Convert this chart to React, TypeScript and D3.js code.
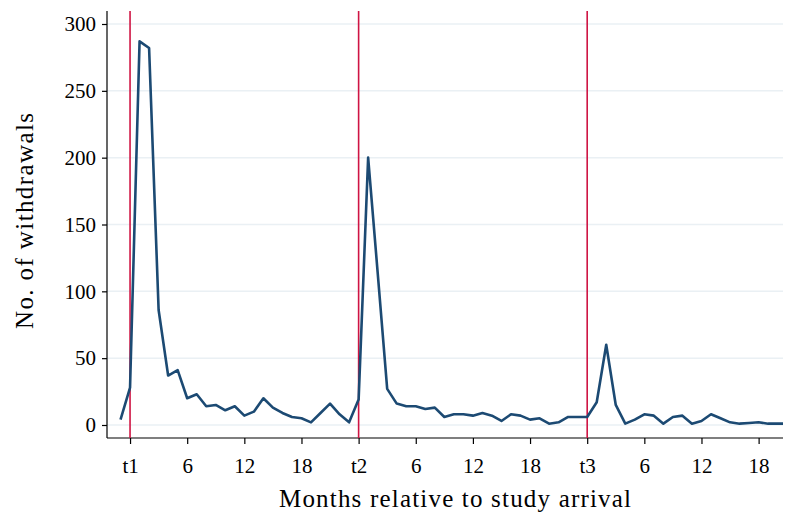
import React, { useRef, useEffect } from "react";
import * as d3 from "d3";

// months relative to first arrival (t1 = 0, t2 = 24, t3 = 48)
const months = d3.range(-1, 70);
const withdrawals = [
  4, 28, 287, 282, 86, 37, 41, 20, 23, 14, 15, 11, 14, 7, 10, 20, 13, 9, 6, 5, 2, 9, 16, 8, 2,
  19, 200, 114, 27, 16, 14, 14, 12, 13, 6, 8, 8, 7, 9, 7, 3, 8, 7, 4, 5, 1, 2, 6, 6,
  6, 17, 60, 15, 1, 4, 8, 7, 1, 6, 7, 1, 3, 8, 5, 2, 1, 1.5, 2, 1, 1, 1,
];
const arrivals = [0, 24, 48];
const xTickValues = [0, 6, 12, 18, 24, 30, 36, 42, 48, 54, 60, 66];
const xTickLabels = ["t1", "6", "12", "18", "t2", "6", "12", "18", "t3", "6", "12", "18"];
const yTickValues = [0, 50, 100, 150, 200, 250, 300];

const W = 791;
const H = 520;
const FONT = "'Liberation Serif', 'DejaVu Serif', serif";

const App = () => {
  const svgRef = useRef<SVGSVGElement>(null);

  useEffect(() => {
    const svg = d3.select(svgRef.current);
    svg.selectAll("*").remove();

    const left = 107;
    const right = 791;
    const top = 11;
    const bottom = 438;

    const x = d3.scaleLinear().domain([-2.42, 69.4]).range([left, right]);
    const y = d3.scaleLinear().domain([0, 300]).range([425, 24]);

    // grid
    svg
      .append("g")
      .selectAll("line")
      .data(yTickValues)
      .enter()
      .append("line")
      .attr("x1", left)
      .attr("x2", right)
      .attr("y1", (d) => y(d))
      .attr("y2", (d) => y(d))
      .attr("stroke", "#eaf0f4")
      .attr("stroke-width", 1.5);

    // y axis
    const yAxis = svg
      .append("g")
      .attr("transform", `translate(${left},0)`)
      .call(d3.axisLeft(y).tickValues(yTickValues).tickSize(5).tickPadding(6).tickSizeOuter(0));
    yAxis.select(".domain").remove();
    yAxis
      .append("line")
      .attr("x1", 0)
      .attr("x2", 0)
      .attr("y1", top)
      .attr("y2", bottom)
      .attr("stroke", "#000")
      .attr("stroke-width", 1.2);

    // x axis
    const xAxis = svg
      .append("g")
      .attr("transform", `translate(0,${bottom})`)
      .call(
        d3
          .axisBottom(x)
          .tickValues(xTickValues)
          .tickFormat((_, i) => xTickLabels[i])
          .tickSize(6)
          .tickPadding(14)
      );
    xAxis.select(".domain").remove();
    xAxis
      .append("line")
      .attr("x1", left)
      .attr("x2", right)
      .attr("stroke", "#000")
      .attr("stroke-width", 1.2);

    svg
      .selectAll(".tick text")
      .attr("font-family", FONT)
      .attr("font-size", 21)
      .attr("fill", "#000");
    svg.selectAll(".tick line").attr("stroke", "#000").attr("stroke-width", 1.2);

    // arrival markers
    svg
      .append("g")
      .selectAll("line")
      .data(arrivals)
      .enter()
      .append("line")
      .attr("x1", (d) => x(d))
      .attr("x2", (d) => x(d))
      .attr("y1", top)
      .attr("y2", bottom)
      .attr("stroke", "#cf1443")
      .attr("stroke-width", 1.6);

    // series
    const line = d3
      .line<number>()
      .x((_, i) => x(months[i]))
      .y((d) => y(d));
    svg
      .append("path")
      .datum(withdrawals)
      .attr("d", line)
      .attr("fill", "none")
      .attr("stroke", "#1c4a73")
      .attr("stroke-width", 2.6)
      .attr("stroke-linejoin", "round");

    // titles
    svg
      .append("text")
      .attr("x", 455)
      .attr("y", 507)
      .attr("text-anchor", "middle")
      .attr("font-family", FONT)
      .attr("font-size", 25)
      .attr("textLength", 352)
      .attr("lengthAdjust", "spacing")
      .text("Months relative to study arrival");
    svg
      .append("text")
      .attr("transform", "translate(33,221) rotate(-90)")
      .attr("text-anchor", "middle")
      .attr("font-family", FONT)
      .attr("font-size", 25)
      .attr("textLength", 216)
      .attr("lengthAdjust", "spacing")
      .text("No. of withdrawals");
  }, []);

  return <svg ref={svgRef} width={W} height={H} style={{ display: "block", margin: -8 }}></svg>;
};

export default App;
